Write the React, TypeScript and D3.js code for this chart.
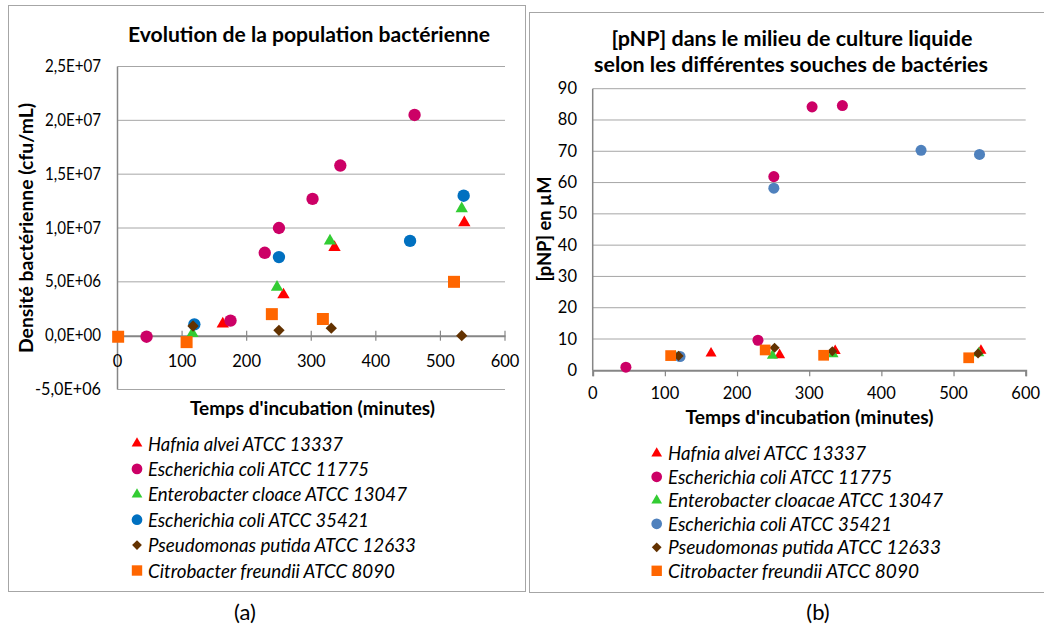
import React, { useEffect, useRef } from 'react';
import * as d3 from 'd3';

// legend labels (b uses "cloacae")
const namesA = [
  'Hafnia alvei ATCC 13337',
  'Escherichia coli ATCC 11775',
  'Enterobacter cloace ATCC 13047',
  'Escherichia coli ATCC 35421',
  'Pseudomonas putida ATCC 12633',
  'Citrobacter freundii ATCC 8090',
];
const namesB = [
  'Hafnia alvei ATCC 13337',
  'Escherichia coli ATCC 11775',
  'Enterobacter cloacae ATCC 13047',
  'Escherichia coli ATCC 35421',
  'Pseudomonas putida ATCC 12633',
  'Citrobacter freundii ATCC 8090',
];

// (a) bacterial density, [minutes, cfu/mL]
const hafniaA: [number, number][] = [[163, 1.1e6], [257, 3.8e6], [336, 8.2e6], [537, 10.5e6]];
const coli11775A: [number, number][] = [[45, -0.1e6], [175, 1.4e6], [228, 7.7e6], [250, 10.0e6], [302, 12.7e6], [345, 15.8e6], [460, 20.5e6]];
const cloaceA: [number, number][] = [[116, 0.2e6], [247, 4.5e6], [329, 8.8e6], [533, 11.8e6]];
const coli35421A: [number, number][] = [[119, 1.05e6], [250, 7.3e6], [453, 8.8e6], [536, 13.0e6]];
const putidaA: [number, number][] = [[117, 0.9e6], [250, 0.5e6], [331, 0.7e6], [533, 0.0]];
const freundiiA: [number, number][] = [[1, -0.1e6], [107, -0.6e6], [239, 2.0e6], [318, 1.55e6], [521, 5.0e6]];

// (b) pNP concentration, [minutes, µM]
const hafniaB: [number, number][] = [[164, 5.4], [259, 4.9], [336, 6.2], [538, 6.3]];
const coli11775B: [number, number][] = [[46, 1.0], [229, 9.6], [251, 61.9], [304, 84.2], [346, 84.6]];
const cloaceB: [number, number][] = [[115, 4.3], [249, 4.7], [333, 5.2], [535, 5.5]];
const coli35421B: [number, number][] = [[121, 4.4], [251, 58.2], [455, 70.3], [536, 69.0]];
const putidaB: [number, number][] = [[119, 4.6], [252, 7.2], [332, 6.1], [534, 5.4]];
const freundiiB: [number, number][] = [[108, 4.7], [239, 6.5], [320, 4.8], [521, 4.0]];

const xTicks = [0, 100, 200, 300, 400, 500, 600];
const yTicksA = [-5e6, 0, 5e6, 10e6, 15e6, 20e6, 25e6];
const yTicksB = [0, 10, 20, 30, 40, 50, 60, 70, 80, 90];

const shapes = ['triangle', 'circle', 'triangle', 'circle', 'diamond', 'square'];
const colorsA = ['#ff0000', '#cc0066', '#33cc33', '#0070c0', '#633200', '#ff6600'];
const colorsB = ['#ff0000', '#cc0066', '#33cc33', '#4f81bd', '#633200', '#ff6600'];

const FONT = 'Lato, "Open Sans", sans-serif';

const sciFmt = (v: number) => {
  const [m, e] = v.toExponential(1).split('e');
  const sign = e[0] === '-' ? '-' : '+';
  const exp = e.replace(/[+-]/, '').padStart(2, '0');
  return `${m.replace('.', ',')}E${sign}${exp}`;
};

const symbolPath = (shape: string, scale: number) => {
  if (shape === 'triangle') return d3.symbol(d3.symbolTriangle, 66 * scale)();
  if (shape === 'circle') return d3.symbol(d3.symbolCircle, 120 * scale)();
  if (shape === 'square') return d3.symbol(d3.symbolSquare, 144 * scale)();
  return d3.symbol(d3.symbolSquare, 64 * scale)();
};

const App = () => {
  const svgRef = useRef<SVGSVGElement | null>(null);

  useEffect(() => {
    if (!svgRef.current) return;
    document.body.style.margin = '0';
    const svg = d3.select(svgRef.current);
    svg.selectAll('*').remove();

    svg.append('rect').attr('width', 1044).attr('height', 628).attr('fill', '#fff');

    // panel frames
    svg.append('rect').attr('x', 8.5).attr('y', 5.5).attr('width', 517).attr('height', 586)
      .attr('fill', 'none').attr('stroke', '#a6a6a6');
    svg.append('rect').attr('x', 529.5).attr('y', 12.5).attr('width', 520).attr('height', 580)
      .attr('fill', 'none').attr('stroke', '#a6a6a6');

    const drawMarkers = (g: any, series: [number, number][][], colors: string[], x: any, y: any, scale: number) => {
      series.forEach((pts, i) => {
        g.selectAll(null)
          .data(pts)
          .enter()
          .append('path')
          .attr('d', symbolPath(shapes[i], scale))
          .attr('transform', (d: [number, number]) =>
            `translate(${x(d[0])},${y(d[1])})${shapes[i] === 'diamond' ? ' rotate(45)' : ''}`)
          .attr('fill', colors[i]);
      });
    };

    const drawLegend = (names: string[], colors: string[], mx: number, tx: number, y0: number, step: number, widths: number[]) => {
      names.forEach((n, i) => {
        const cy = y0 + i * step;
        svg.append('path')
          .attr('d', symbolPath(shapes[i], 0.75))
          .attr('transform', `translate(${mx},${cy})${shapes[i] === 'diamond' ? ' rotate(45)' : ''}`)
          .attr('fill', colors[i]);
        svg.append('text')
          .attr('x', tx).attr('y', cy + 7)
          .attr('font-family', FONT).attr('font-size', 20).attr('font-style', 'italic')
          .attr('fill', '#000')
          .attr('textLength', widths[i]).attr('lengthAdjust', 'spacingAndGlyphs')
          .text(n);
      });
    };

    // ---------- (a) ----------
    const xA = d3.scaleLinear().domain([0, 600]).range([117.5, 505]);
    const yA = d3.scaleLinear().domain([-5e6, 2.5e7]).range([389.5, 66.5]);
    const gA = svg.append('g');

    gA.selectAll(null).data(yTicksA.filter(t => t !== 0)).enter().append('line')
      .attr('x1', xA(0)).attr('x2', xA(600))
      .attr('y1', d => yA(d)).attr('y2', d => yA(d))
      .attr('stroke', '#a6a6a6').attr('stroke-width', 1);
    gA.append('line').attr('x1', xA(0)).attr('x2', xA(0)).attr('y1', yA(2.5e7)).attr('y2', yA(-5e6))
      .attr('stroke', '#868686').attr('stroke-width', 1.5);

    const axA = gA.append('g').attr('transform', `translate(0,${yA(0)})`)
      .call(d3.axisBottom(xA).tickValues(xTicks).tickSize(0).tickFormat(() => '') as any);
    axA.select('.domain').attr('stroke', '#868686').attr('stroke-width', 2);
    gA.selectAll(null).data(xTicks).enter().append('line')
      .attr('x1', d => xA(d)).attr('x2', d => xA(d))
      .attr('y1', yA(0) - 5).attr('y2', yA(0) + 5)
      .attr('stroke', '#868686').attr('stroke-width', 1.2);

    gA.selectAll(null).data(xTicks).enter().append('text')
      .attr('x', d => xA(d)).attr('y', 366.5)
      .attr('text-anchor', 'middle').attr('font-family', FONT).attr('font-size', 16.5)
      .text(d => d);
    gA.selectAll(null).data(yTicksA).enter().append('text')
      .attr('x', 101).attr('y', d => yA(d) + 5.5)
      .attr('text-anchor', 'end').attr('font-family', FONT).attr('font-size', 16.5)
      .attr('textLength', (d: number) => (d < 0 ? 66 : 56)).attr('lengthAdjust', 'spacingAndGlyphs')
      .text(d => sciFmt(d));

    gA.append('text').attr('x', 309).attr('y', 42).attr('text-anchor', 'middle')
      .attr('font-family', FONT).attr('font-size', 21).attr('font-weight', 'bold')
      .attr('textLength', 362).attr('lengthAdjust', 'spacingAndGlyphs')
      .text('Evolution de la population  bactérienne');
    gA.append('text').attr('x', 312.5).attr('y', 415).attr('text-anchor', 'middle')
      .attr('font-family', FONT).attr('font-size', 19).attr('font-weight', 'bold')
      .attr('textLength', 245).attr('lengthAdjust', 'spacingAndGlyphs')
      .text("Temps d'incubation (minutes)");
    gA.append('text').attr('transform', 'translate(33,228) rotate(-90)').attr('text-anchor', 'middle')
      .attr('font-family', FONT).attr('font-size', 19).attr('font-weight', 'bold')
      .attr('textLength', 250).attr('lengthAdjust', 'spacingAndGlyphs')
      .text('Densité bactérienne  (cfu/mL)');

    drawMarkers(gA, [hafniaA, coli11775A, cloaceA, coli35421A, putidaA, freundiiA], colorsA, xA, yA, 1);
    drawLegend(namesA, colorsA, 137, 148, 443.5, 25.4, [195, 221, 259, 221, 268, 247]);
    svg.append('text').attr('x', 245).attr('y', 620).attr('text-anchor', 'middle')
      .attr('font-family', FONT).attr('font-size', 22).text('(a)');

    // ---------- (b) ----------
    const xB = d3.scaleLinear().domain([0, 600]).range([592.7, 1025.7]);
    const yB = d3.scaleLinear().domain([0, 90]).range([370.3, 88.7]);
    const gB = svg.append('g');

    gB.selectAll(null).data(yTicksB.filter(t => t !== 0)).enter().append('line')
      .attr('x1', xB(0)).attr('x2', xB(600))
      .attr('y1', d => yB(d)).attr('y2', d => yB(d))
      .attr('stroke', '#a6a6a6').attr('stroke-width', 1);
    gB.append('line').attr('x1', xB(0)).attr('x2', xB(0)).attr('y1', yB(90)).attr('y2', yB(0))
      .attr('stroke', '#868686').attr('stroke-width', 1.5);
    const axB = gB.append('g').attr('transform', `translate(0,${yB(0)})`)
      .call(d3.axisBottom(xB).tickValues(xTicks).tickSize(6).tickFormat(() => '') as any);
    axB.select('.domain').attr('stroke', '#868686').attr('stroke-width', 2);
    axB.selectAll('.tick line').attr('stroke', '#868686').attr('stroke-width', 1.2);

    gB.selectAll(null).data(xTicks).enter().append('text')
      .attr('x', d => xB(d)).attr('y', 398.5)
      .attr('text-anchor', 'middle').attr('font-family', FONT).attr('font-size', 16.5)
      .text(d => d);
    gB.selectAll(null).data(yTicksB).enter().append('text')
      .attr('x', 577).attr('y', d => yB(d) + 5.5)
      .attr('text-anchor', 'end').attr('font-family', FONT).attr('font-size', 16.5)
      .text(d => d);

    gB.append('text').attr('x', 792).attr('y', 45.5).attr('text-anchor', 'middle')
      .attr('font-family', FONT).attr('font-size', 21).attr('font-weight', 'bold')
      .attr('textLength', 361).attr('lengthAdjust', 'spacingAndGlyphs')
      .text('[pNP] dans le milieu de culture liquide');
    gB.append('text').attr('x', 791).attr('y', 72).attr('text-anchor', 'middle')
      .attr('font-family', FONT).attr('font-size', 21).attr('font-weight', 'bold')
      .attr('textLength', 394).attr('lengthAdjust', 'spacingAndGlyphs')
      .text('selon les différentes souches de bactéries');
    gB.append('text').attr('x', 809.5).attr('y', 424).attr('text-anchor', 'middle')
      .attr('font-family', FONT).attr('font-size', 19).attr('font-weight', 'bold')
      .attr('textLength', 248).attr('lengthAdjust', 'spacingAndGlyphs')
      .text("Temps d'incubation (minutes)");
    gB.append('text').attr('transform', 'translate(551,229) rotate(-90)').attr('text-anchor', 'middle')
      .attr('font-family', FONT).attr('font-size', 19).attr('font-weight', 'bold')
      .attr('textLength', 105).attr('lengthAdjust', 'spacingAndGlyphs')
      .text('[pNP] en µM');

    drawMarkers(gB, [hafniaB, coli11775B, cloaceB, coli35421B, putidaB, freundiiB], colorsB, xB, yB, 0.8);
    drawLegend(namesB, colorsB, 656.7, 668, 453.3, 23.5, [198, 224, 275, 224, 273, 251]);
    svg.append('text').attr('x', 818).attr('y', 620).attr('text-anchor', 'middle')
      .attr('font-family', FONT).attr('font-size', 22).text('(b)');
  }, []);

  return (
    <div style={{ width: 1044, height: 628 }}>
      <svg ref={svgRef} width={1044} height={628} style={{ display: 'block' }}></svg>
    </div>
  );
};

export default App;
